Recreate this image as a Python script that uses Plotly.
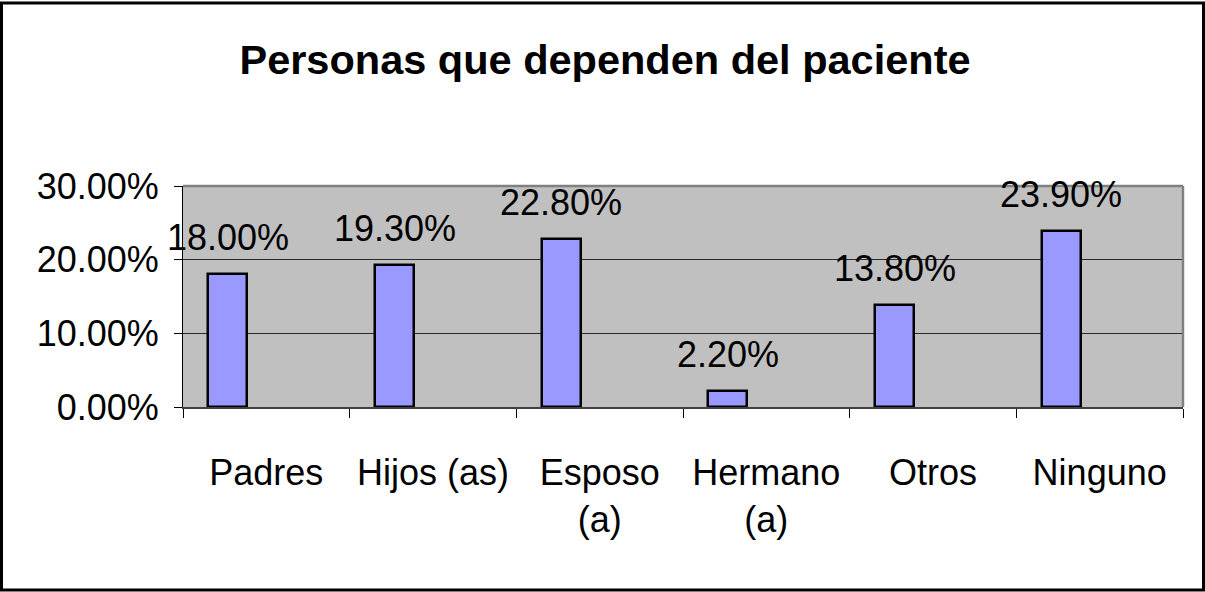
import plotly.graph_objects as go

categories = ["Padres", "Hijos (as)", "Esposo<br>(a)", "Hermano<br>(a)", "Otros", "Ninguno"]
values = [0.18, 0.193, 0.228, 0.022, 0.138, 0.239]
y_ticks = [0.0, 0.1, 0.2, 0.3]
title_text = "<b>Personas que dependen del paciente</b>"

W, H = 1205, 592
L, R, T, B = 183, 22, 186, 185
FONT = "Liberation Sans, Arial, sans-serif"

BAR_W = 0.234
BAR_OFF = -0.348
cat_px = (W - L - R) / len(categories)

fig = go.Figure()
fig.add_trace(go.Bar(
    x=categories, y=values,
    width=BAR_W, offset=BAR_OFF,
    marker=dict(color="#9999FF", line=dict(color="black", width=2.5)),
    hoverinfo="x+y",
))

for c, v in zip(categories, values):
    fig.add_annotation(
        x=c, y=v, xref="x", yref="y",
        text=f"{v*100:.2f}%",
        showarrow=False, yanchor="bottom", xanchor="center",
        xshift=(BAR_OFF + BAR_W / 2) * cat_px,
        yshift=14,
        font=dict(family=FONT, size=36, color="black"),
    )

pw, ph = W - L - R, H - T - B
def px2x(px):
    return (px - L) / pw
def py2y(py):
    return (H - B - py) / ph

# outer frame
fig.add_shape(type="rect", xref="paper", yref="paper",
              x0=px2x(1.5), x1=px2x(1203.5), y0=py2y(590), y1=py2y(3),
              line=dict(color="black", width=3), fillcolor="rgba(0,0,0,0)", layer="above")
# plot area top/right border
fig.add_shape(type="line", xref="paper", yref="paper", x0=0, x1=1, y0=1, y1=1,
              line=dict(color="#808080", width=2.5), layer="above")
fig.add_shape(type="line", xref="paper", yref="paper", x0=1, x1=1, y0=0, y1=1,
              line=dict(color="#808080", width=2.5), layer="above")

fig.update_layout(
    width=W, height=H,
    margin=dict(l=L, r=R, t=T, b=B, pad=0),
    paper_bgcolor="white",
    plot_bgcolor="#C0C0C0",
    showlegend=False,
    bargap=0,
    title=dict(text=title_text, x=605 / W, xanchor="center",
               y=1 - 59 / H, yanchor="middle", yref="container",
               font=dict(family=FONT, size=41.5, color="black")),
    font=dict(family=FONT, size=36, color="black"),
)

fig.update_xaxes(
    type="category", range=[-0.5, len(categories) - 0.5],
    tickmode="array", tickvals=categories, ticktext=categories,
    tickson="boundaries", ticks="outside", ticklen=9, tickcolor="black", tickwidth=1,
    showgrid=False, showline=True, linecolor="#404040", linewidth=2,
    ticklabelstandoff=33,
    tickfont=dict(family=FONT, size=36, color="black"),
)
fig.update_yaxes(
    range=[0, 0.30],
    tickmode="array", tickvals=y_ticks, ticktext=[f"{t*100:.2f}%" for t in y_ticks],
    ticks="outside", ticklen=8, tickcolor="black", tickwidth=1,
    showgrid=True, gridcolor="#2a2a2a", gridwidth=1,
    zeroline=False,
    showline=True, linecolor="black", linewidth=1,
    ticklabelstandoff=8,
    tickfont=dict(family=FONT, size=36, color="black"),
)

fig.write_html("out.html", config={"displayModeBar": False},
               post_script="document.body.style.margin='0';")
